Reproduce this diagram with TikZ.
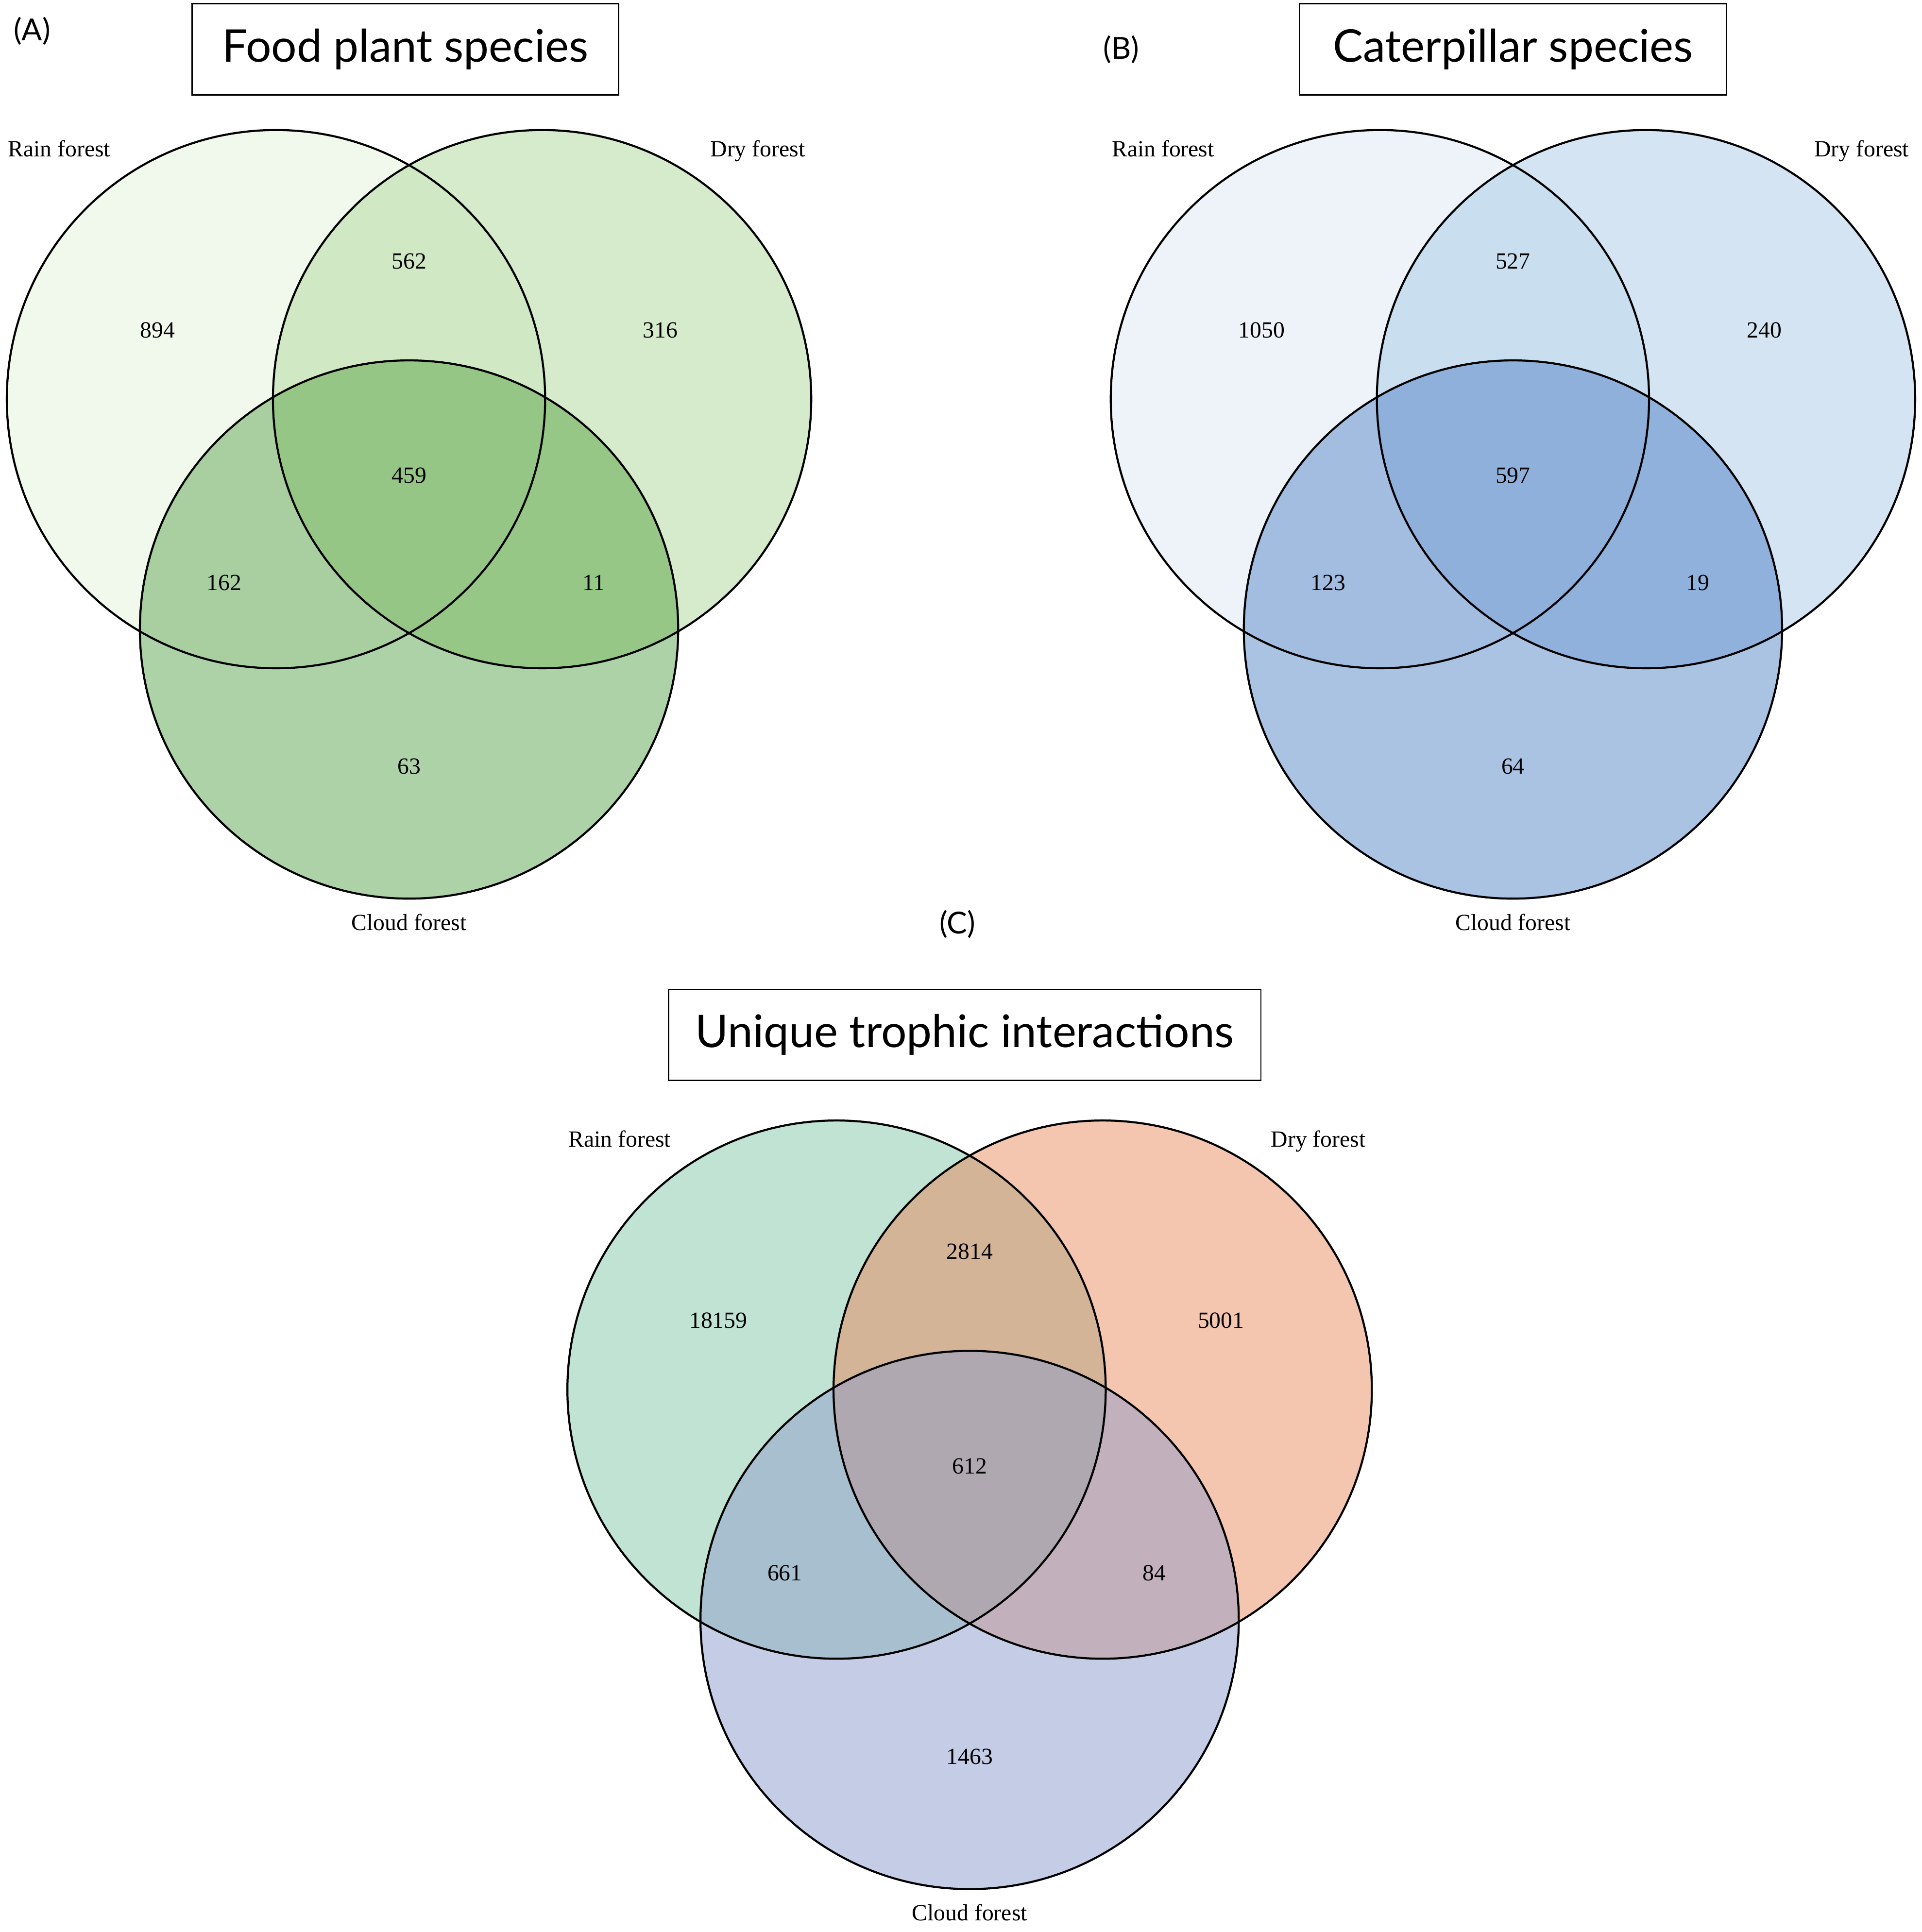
\documentclass[tikz,border=0pt]{standalone}
\usepackage{fontspec}
\setmainfont{Liberation Serif}
\newfontfamily\titlefont{Lato}

% region colours: R, D, RD, C, RC, DC, RDC
\definecolor{AR}{HTML}{F1F8EC}
\definecolor{AD}{HTML}{D6EBCB}
\definecolor{ARD}{HTML}{D1E8C5}
\definecolor{AC}{HTML}{AED2A8}
\definecolor{ARC}{HTML}{A9CFA0}
\definecolor{ADC}{HTML}{96C787}
\definecolor{ARDC}{HTML}{95C686}
\definecolor{BR}{HTML}{EEF3FA}
\definecolor{BD}{HTML}{D4E4F2}
\definecolor{BRD}{HTML}{C9DEEE}
\definecolor{BC}{HTML}{AAC3E3}
\definecolor{BRC}{HTML}{A3BDE0}
\definecolor{BDC}{HTML}{90B1DB}
\definecolor{BRDC}{HTML}{8FB0DB}
\definecolor{CR}{HTML}{C0E3D3}
\definecolor{CD}{HTML}{F4C6AF}
\definecolor{CRD}{HTML}{D4B497}
\definecolor{CC}{HTML}{C5CDE6}
\definecolor{CRC}{HTML}{A7BFCE}
\definecolor{CDC}{HTML}{C3B0BD}
\definecolor{CRDC}{HTML}{AFA8B1}

\tikzset{
  set/.style={draw=black,line width=0.95pt},
  num/.style={inner sep=0,font=\fontsize{10.7}{12}\selectfont},
  setname/.style={inner sep=0,anchor=base,font=\fontsize{10.7}{12}\selectfont},
  titlebox/.style={draw,line width=0.6pt,inner sep=0,minimum height=1.48cm,
    font=\titlefont\fontsize{20.8}{25}\selectfont},
  panel/.style={inner sep=0,font=\titlefont\fontsize{14}{16}\selectfont}
}

\begin{document}
\begin{tikzpicture}[x=0.02cm,y=-0.02cm]
  \useasboundingbox (0,0) rectangle (1560,1568.3);

  \foreach \p/\cx/\cy/\nr/\nrd/\nd/\nrdc/\nrc/\ndc/\nc in
    {A/224/324/894/562/316/459/162/11/63,
     B/1120/324/1050/527/240/597/123/19/64,
     C/679/1128/18159/2814/5001/612/661/84/1463}{
    \coordinate (\p rain) at (\cx,\cy);
    \coordinate (\p dry) at (\cx+216,\cy);
    \coordinate (\p cloud) at (\cx+108,\cy+187);

    % regions
    \fill[\p R] (\p rain) circle[radius=4.37cm];
    \fill[\p D] (\p dry) circle[radius=4.37cm];
    \begin{scope}
      \clip (\p rain) circle[radius=4.37cm];
      \fill[\p RD] (\p dry) circle[radius=4.37cm];
    \end{scope}
    \fill[\p C] (\p cloud) circle[radius=4.37cm];
    \begin{scope}
      \clip (\p rain) circle[radius=4.37cm];
      \fill[\p RC] (\p cloud) circle[radius=4.37cm];
    \end{scope}
    \begin{scope}
      \clip (\p dry) circle[radius=4.37cm];
      \fill[\p DC] (\p cloud) circle[radius=4.37cm];
    \end{scope}
    \begin{scope}
      \clip (\p rain) circle[radius=4.37cm];
      \clip (\p dry) circle[radius=4.37cm];
      \fill[\p RDC] (\p cloud) circle[radius=4.37cm];
    \end{scope}

    % outlines
    \draw[set] (\p rain) circle[radius=4.37cm];
    \draw[set] (\p dry) circle[radius=4.37cm];
    \draw[set] (\p cloud) circle[radius=4.37cm];

    % counts
    \node[num] (\p nr) at (\cx-96,\cy-56) {\nr};
    \node[num] (\p nrd) at (\cx+108,\cy-112) {\nrd};
    \node[num] (\p nd) at (\cx+312,\cy-56) {\nd};
    \node[num] (\p nrdc) at (\cx+108,\cy+62) {\nrdc};
    \node[num] (\p nrc) at (\cx-42,\cy+149) {\nrc};
    \node[num] (\p ndc) at (\cx+258,\cy+149) {\ndc};
    \node[num] (\p nc) at (\cx+108,\cy+298) {\nc};

    % set names
    \node[setname] (\p lrain) at (\cx-176,\cy-197) {Rain forest};
    \node[setname] (\p ldry) at (\cx+391,\cy-197) {Dry forest};
    \node[setname] (\p lcloud) at (\cx+108,\cy+431) {Cloud forest};
  }

  % panel letters and titles
  \node[panel] (pa) at (26,25) {(A)};
  \node[panel] (pb) at (910,40) {(B)};
  \node[panel] (pc) at (777,750) {(C)};
  \node[titlebox,minimum width=6.92cm] (ta) at (329,40) {Food plant species};
  \node[titlebox,minimum width=6.94cm] (tb) at (1228,40) {Caterpillar species};
  \node[titlebox,minimum width=9.62cm] (tc) at (783,840) {Unique trophic interactions};
\end{tikzpicture}
\end{document}
